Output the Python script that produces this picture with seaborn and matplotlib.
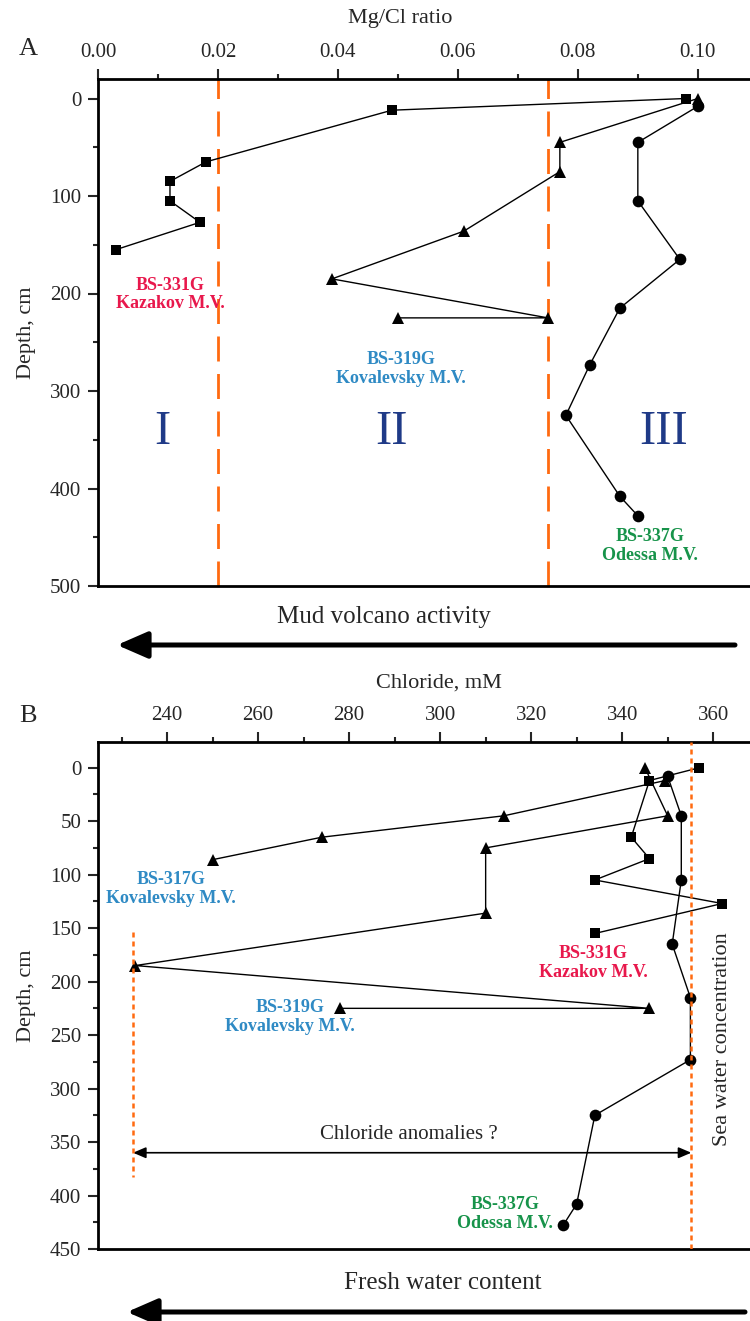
import matplotlib
matplotlib.use("Agg")
import matplotlib.pyplot as plt
from matplotlib.patches import FancyArrowPatch
from matplotlib.ticker import MultipleLocator
import seaborn as sns

# ---- Panel A: Mg/Cl ratio vs depth ----
a331_depth = [0, 12, 65, 85, 105, 127, 155]
a331_mgcl = [0.098, 0.049, 0.018, 0.012, 0.012, 0.017, 0.003]
a319_depth = [0, 45, 75, 136, 185, 225, 225]
a319_mgcl = [0.100, 0.077, 0.077, 0.061, 0.039, 0.075, 0.050]
a337_depth = [8, 45, 105, 165, 215, 273, 325, 408, 428]
a337_mgcl = [0.100, 0.090, 0.090, 0.097, 0.087, 0.082, 0.078, 0.087, 0.090]
zone_bounds = [0.02, 0.075]
zone_names = ["I", "II", "III"]
zone_x = [0.0108, 0.049, 0.0943]

# ---- Panel B: chloride vs depth ----
b331_depth = [0, 12, 65, 85, 105, 127, 155]
b331_cl = [357, 346, 342, 346, 334, 362, 334]
b317_depth = [12, 45, 65, 86]
b317_cl = [349.5, 314, 274, 250]
b319_depth = [0, 45, 75, 136, 185, 225, 225]
b319_cl = [345, 350, 310, 310, 233, 346, 278]
b337_depth = [8, 45, 105, 165, 215, 273, 325, 408, 428]
b337_cl = [350, 353, 353, 351, 355, 355, 334, 330, 327]
seawater_cl = 355.2
anomaly_cl = 232.5
anomaly_depth = [154, 383]
anomaly_arrow_depth = 360

sns.set_style("ticks")
plt.rcParams["font.family"] = ["Liberation Serif", "DejaVu Serif"]
plt.rcParams["mathtext.default"] = "regular"

C_RED = "#e8184c"
C_BLUE = "#2f8ac4"
C_GREEN = "#17934a"
C_ORANGE = "#ff6a10"
C_NAVY = "#1f3a87"

W, H = 750, 1321
fig = plt.figure(figsize=(W / 100, H / 100), dpi=100)


def px_axes(left, top, right, bottom):
    return fig.add_axes([left / W, 1 - bottom / H, (right - left) / W, (bottom - top) / H])


axA = px_axes(98, 79, 750, 586)
axB = px_axes(98, 742, 750, 1249)


def style_axes(ax):
    ax.xaxis.tick_top()
    ax.xaxis.set_label_position("top")
    for side in ("top", "left", "bottom"):
        ax.spines[side].set_linewidth(2.0)
        ax.spines[side].set_color("black")
    ax.spines["right"].set_visible(False)
    ax.tick_params(axis="x", which="major", length=7, width=1.5, pad=5,
                   labelsize=15, top=True, bottom=False)
    ax.tick_params(axis="x", which="minor", length=3.5, width=1.5, top=True, bottom=False)
    ax.tick_params(axis="y", which="major", length=7, width=1.5, pad=5, labelsize=15)
    ax.tick_params(axis="y", which="minor", length=3.5, width=1.5)


def profile(ax, x, y, marker, ms, z):
    sns.lineplot(x=x, y=y, sort=False, estimator=None, ax=ax, color="black",
                 linewidth=1.0, marker=marker, markersize=ms,
                 markeredgewidth=0, zorder=z)


# ---------- Panel A ----------
for xb in zone_bounds:
    axA.axvline(xb, color=C_ORANGE, lw=2.0, linestyle=(0, (9, 4.5)), zorder=2)

profile(axA, a337_mgcl, a337_depth, "o", 8.4, 3)
profile(axA, a319_mgcl, a319_depth, "^", 9.2, 4)
profile(axA, a331_mgcl, a331_depth, "s", 7.7, 5)

axA.set_xlim(0, 0.1087)
axA.set_ylim(500, -20)
axA.xaxis.set_major_locator(MultipleLocator(0.02))
axA.xaxis.set_minor_locator(MultipleLocator(0.01))
axA.xaxis.set_major_formatter(matplotlib.ticker.FormatStrFormatter("%.2f"))
axA.yaxis.set_major_locator(MultipleLocator(100))
axA.yaxis.set_minor_locator(MultipleLocator(50))
style_axes(axA)
axA.set_xlabel("Mg/Cl ratio", fontsize=16, va="center")
axA.xaxis.set_label_coords(0.463, 1.120)
axA.set_ylabel("Depth, cm", fontsize=16, va="center")
axA.yaxis.set_label_coords(-0.109, 0.5)

for name, xz in zip(zone_names, zone_x):
    axA.text(xz, 342, name, color=C_NAVY, fontsize=35, ha="center", va="center")

lab = dict(fontsize=13, fontweight="bold", ha="center", va="center", linespacing=1.15)
axA.text(0.0121, 201, "BS-331G\nKazakov M.V.", color=C_RED, **lab)
axA.text(0.0505, 277, "BS-319G\nKovalevsky M.V.", color=C_BLUE, **lab)
axA.text(0.0921, 459, "BS-337G\nOdessa M.V.", color=C_GREEN, **lab)

fig.text(384 / W, 1 - 617 / H, "Mud volcano activity", fontsize=18,
         ha="center", va="center")
fig.add_artist(FancyArrowPatch((735 / W, 1 - 645 / H), (117 / W, 1 - 645 / H),
                               transform=fig.transFigure,
                               arrowstyle="-|>,head_length=0.62,head_width=0.27",
                               mutation_scale=30, lw=3.6, color="black",
                               shrinkA=0, shrinkB=0))

# ---------- Panel B ----------
axB.axvline(seawater_cl, color=C_ORANGE, lw=1.8, linestyle=(0, (2, 1.6)), zorder=6)
axB.plot([anomaly_cl, anomaly_cl], anomaly_depth, color=C_ORANGE, lw=1.8,
         linestyle=(0, (2, 1.6)), zorder=6)

profile(axB, b337_cl, b337_depth, "o", 8.4, 3)
profile(axB, b319_cl, b319_depth, "^", 9.2, 4)
profile(axB, b317_cl, b317_depth, "^", 9.2, 4)
profile(axB, b331_cl, b331_depth, "s", 7.7, 5)

axB.set_xlim(224.8, 368.1)
axB.set_ylim(450, -24)
axB.xaxis.set_major_locator(MultipleLocator(20))
axB.xaxis.set_minor_locator(MultipleLocator(10))
axB.yaxis.set_major_locator(MultipleLocator(50))
axB.yaxis.set_minor_locator(MultipleLocator(25))
style_axes(axB)
axB.set_xlabel("Chloride, mM", fontsize=16, va="center")
axB.xaxis.set_label_coords(0.523, 1.116)
axB.set_ylabel("Depth, cm", fontsize=16, va="center")
axB.yaxis.set_label_coords(-0.109, 0.5)

axB.annotate("", xy=(anomaly_cl, anomaly_arrow_depth),
             xytext=(seawater_cl, anomaly_arrow_depth),
             arrowprops=dict(arrowstyle="<|-|>,head_length=0.7,head_width=0.3",
                             mutation_scale=11, lw=1.2, color="black",
                             shrinkA=0, shrinkB=0), zorder=5)
axB.text(293.2, 343, "Chloride anomalies ?", fontsize=15, ha="center", va="center")
axB.text(362.0, 254, "Sea water concentration", fontsize=16, rotation=90,
         ha="center", va="center")

axB.text(240.9, 113, "BS-317G\nKovalevsky M.V.", color=C_BLUE, **lab)
axB.text(267.0, 233, "BS-319G\nKovalevsky M.V.", color=C_BLUE, **lab)
axB.text(333.6, 183, "BS-331G\nKazakov M.V.", color=C_RED, **lab)
axB.text(314.3, 417, "BS-337G\nOdessa M.V.", color=C_GREEN, **lab)

fig.text(443 / W, 1 - 1283 / H, "Fresh water content", fontsize=18,
         ha="center", va="center")
fig.add_artist(FancyArrowPatch((745 / W, 1 - 1312 / H), (127 / W, 1 - 1312 / H),
                               transform=fig.transFigure,
                               arrowstyle="-|>,head_length=0.62,head_width=0.27",
                               mutation_scale=30, lw=3.6, color="black",
                               shrinkA=0, shrinkB=0))

# panel letters
fig.text(28 / W, 1 - 49 / H, "A", fontsize=19, ha="center", va="center")
fig.text(28 / W, 1 - 716 / H, "B", fontsize=19, ha="center", va="center")

fig.savefig("out.png", dpi=100)
